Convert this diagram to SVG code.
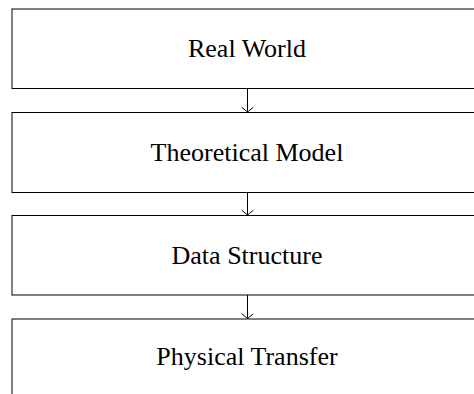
<svg xmlns="http://www.w3.org/2000/svg" width="474" height="394" viewBox="0 0 474 394">
  <style>
    .box { fill: #fff; stroke: #000; stroke-width: 1; }
    .lbl { font-family: "Liberation Serif", "Times New Roman", serif; font-size: 26px; fill: #000; text-anchor: middle; }
    .edge { fill: none; stroke: #000; stroke-width: 1; }
    .head { fill: none; stroke: #000; stroke-width: 1; stroke-linecap: round; }
  </style>
  <defs>
    <marker id="to" markerUnits="userSpaceOnUse" viewBox="-8 -7 10 14" markerWidth="10" markerHeight="14" refX="0" refY="0" orient="auto">
      <path class="head" d="M-4.5,-5.5 Q-1.2,-1.6 0,0 Q-1.2,1.6 -4.5,5.5"/>
    </marker>
  </defs>
  <rect width="474" height="394" fill="#fff"/>
  <g id="connectors">
    <line class="edge" x1="247.5" y1="88.5" x2="247.5" y2="112" marker-end="url(#to)"/>
    <line class="edge" x1="247.5" y1="192.5" x2="247.5" y2="215" marker-end="url(#to)"/>
    <line class="edge" x1="247.5" y1="295" x2="247.5" y2="318.5" marker-end="url(#to)"/>
  </g>
  <g id="real-world">
    <rect class="box" x="12" y="9" width="470" height="79.5"/>
    <text class="lbl" x="247" y="57">Real World</text>
  </g>
  <g id="theoretical-model">
    <rect class="box" x="12" y="112.5" width="470" height="80"/>
    <text class="lbl" x="247" y="161">Theoretical Model</text>
  </g>
  <g id="data-structure">
    <rect class="box" x="12" y="215.5" width="470" height="79.5"/>
    <text class="lbl" x="247" y="263.5">Data Structure</text>
  </g>
  <g id="physical-transfer">
    <rect class="box" x="12" y="319" width="470" height="90"/>
    <text class="lbl" x="247" y="364.5">Physical Transfer</text>
  </g>
</svg>
